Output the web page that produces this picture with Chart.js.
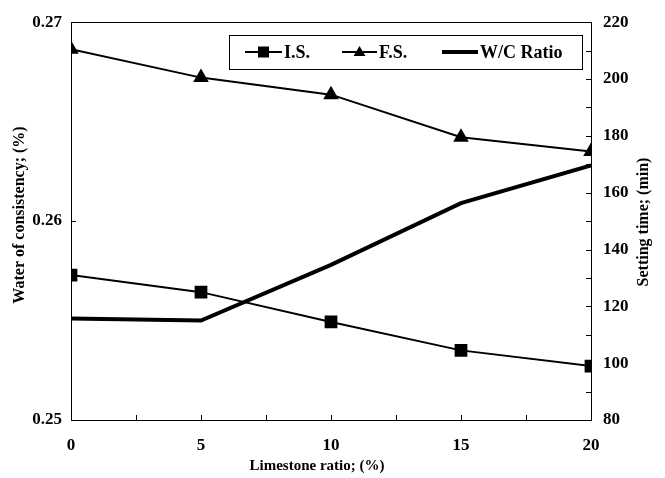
<!DOCTYPE html>
<html>
<head>
<meta charset="utf-8">
<script src="https://cdn.jsdelivr.net/npm/chart.js@4"></script>
<style>
  body { margin: 0; background: #fff; }
  #wrap { width: 665px; height: 478px; }
</style>
</head>
<body>
<div id="wrap"><canvas id="myChart" width="665" height="478"></canvas></div>
<script>
// Data
const limestone = [0, 5, 10, 15, 20];
const initialSet = [131, 125, 114.5, 104.5, 99];
const finalSet = [210.5, 200.5, 194.5, 179.5, 174.5];
const wcRatio = [0.2551, 0.2550, 0.2578, 0.2609, 0.2628];

const xTicks = [0, 5, 10, 15, 20];
const leftTicks = [0.25, 0.26, 0.27];
const rightTicks = [80, 100, 120, 140, 160, 180, 200, 220];

const xTitle = 'Limestone ratio; (%)';
const leftTitle = 'Water of consistency; (%)';
const rightTitle = 'Setting time; (min)';

const toPoints = (vals) => limestone.map((x, i) => ({ x: x, y: vals[i] }));

const serif = '"Liberation Serif", "Times New Roman", serif';

// inward ticks, frame box, axis titles and legend box
const framePlugin = {
    id: 'frame',
    afterDraw(chart) {
        const ctx = chart.ctx;
        const a = chart.chartArea;
        ctx.save();
        ctx.strokeStyle = '#000';
        ctx.lineWidth = 1;
        ctx.strokeRect(Math.round(a.left) + 0.5, Math.round(a.top) + 0.5,
            Math.round(a.right - a.left), Math.round(a.bottom - a.top));

        const tick = (x1, y1, x2, y2) => {
            ctx.beginPath();
            ctx.moveTo(x1, y1);
            ctx.lineTo(x2, y2);
            ctx.stroke();
        };
        const x = chart.scales.x;
        x.ticks.forEach(t => {
            const px = Math.round(x.getPixelForValue(t.value)) + 0.5;
            tick(px, a.bottom, px, a.bottom - 5);
        });
        const y = chart.scales.y;
        y.ticks.forEach(t => {
            const py = Math.round(y.getPixelForValue(t.value)) + 0.5;
            tick(a.left, py, a.left + 5, py);
        });
        const y1 = chart.scales.y1;
        y1.ticks.forEach(t => {
            const py = Math.round(y1.getPixelForValue(t.value)) + 0.5;
            tick(a.right, py, a.right - 5, py);
        });

        // axis titles
        ctx.fillStyle = '#000';
        ctx.textAlign = 'center';
        ctx.textBaseline = 'middle';
        ctx.font = 'bold 15px ' + serif;
        ctx.fillText(xTitle, 317, 466);
        ctx.font = 'bold 16px ' + serif;
        ctx.save();
        ctx.translate(20, 215);
        ctx.rotate(-Math.PI / 2);
        ctx.fillText(leftTitle, 0, 0);
        ctx.restore();
        ctx.save();
        ctx.translate(644, 222);
        ctx.rotate(-Math.PI / 2);
        ctx.fillText(rightTitle, 0, 0);
        ctx.restore();

        // legend
        const lx = 229, ly = 35, lw = 353, lh = 34;
        ctx.fillStyle = '#fff';
        ctx.fillRect(lx, ly, lw, lh);
        ctx.strokeRect(lx + 0.5, ly + 0.5, lw, lh);
        const my = ly + lh / 2;
        ctx.font = 'bold 18px ' + serif;
        ctx.textAlign = 'left';
        ctx.textBaseline = 'middle';
        ctx.fillStyle = '#000';
        const items = [
            { x0: 245, x1: 282, lw: 2, marker: 'rect', label: 'I.S.' },
            { x0: 342, x1: 377, lw: 2, marker: 'tri', label: 'F.S.' },
            { x0: 442, x1: 478, lw: 4, marker: null, label: 'W/C Ratio' },
        ];
        items.forEach(it => {
            ctx.lineWidth = it.lw;
            tick(it.x0, my, it.x1, my);
            const cx = (it.x0 + it.x1) / 2;
            if (it.marker === 'rect') {
                ctx.fillRect(cx - 5.5, my - 5.5, 11, 11);
            } else if (it.marker === 'tri') {
                ctx.beginPath();
                ctx.moveTo(cx, my - 6);
                ctx.lineTo(cx + 6, my + 4);
                ctx.lineTo(cx - 6, my + 4);
                ctx.closePath();
                ctx.fill();
            }
            ctx.fillText(it.label, it.x1 + 2, my + 1);
        });
        ctx.restore();
    }
};

const ctx = document.getElementById('myChart').getContext('2d');

const data = {
    datasets: [
        {
            label: 'I.S.',
            data: toPoints(initialSet),
            yAxisID: 'y1',
            borderColor: '#000',
            backgroundColor: '#000',
            borderWidth: 2,
            pointStyle: 'rect',
            pointRadius: 9,
            pointBorderWidth: 0,
        },
        {
            label: 'F.S.',
            data: toPoints(finalSet),
            yAxisID: 'y1',
            borderColor: '#000',
            backgroundColor: '#000',
            borderWidth: 2,
            pointStyle: 'triangle',
            pointRadius: 9,
            pointBorderWidth: 0,
        },
        {
            label: 'W/C Ratio',
            data: toPoints(wcRatio),
            yAxisID: 'y',
            borderColor: '#000',
            borderWidth: 4,
            pointRadius: 0,
        },
    ],
};

const tickFont = { family: serif, size: 17, weight: 'bold' };
const noGrid = { display: false, drawTicks: false, tickLength: 0 };

const options = {
    responsive: false,
    animation: false,
    layout: { padding: { top: 17, left: 0, right: 0, bottom: 0 } },
    plugins: { legend: { display: false }, tooltip: { enabled: false } },
    scales: {
        x: {
            type: 'linear',
            min: 0,
            max: 20,
            afterBuildTicks: (s) => { s.ticks = [0, 2.5, 5, 7.5, 10, 12.5, 15, 17.5, 20].map(v => ({ value: v })); },
            afterFit: (s) => { s.height = 58; },
            grid: noGrid,
            border: { display: false },
            ticks: {
                color: '#000',
                font: tickFont,
                padding: 15,
                maxRotation: 0,
                autoSkip: false,
                callback: (v) => xTicks.includes(v) ? v : '',
            },
        },
        y: {
            position: 'left',
            min: 0.25,
            max: 0.27,
            afterBuildTicks: (s) => { s.ticks = leftTicks.map(v => ({ value: v })); },
            afterFit: (s) => { s.width = 71; },
            grid: noGrid,
            border: { display: false },
            ticks: {
                color: '#000',
                font: tickFont,
                padding: 9,
                callback: (v) => v.toFixed(2),
            },
        },
        y1: {
            position: 'right',
            min: 80,
            max: 220,
            afterBuildTicks: (s) => {
                const t = [];
                for (let v = 80; v <= 220; v += 10) t.push({ value: v });
                s.ticks = t;
            },
            afterFit: (s) => { s.width = 74; },
            grid: noGrid,
            border: { display: false },
            ticks: {
                color: '#000',
                font: tickFont,
                padding: 12,
                autoSkip: false,
                callback: (v) => rightTicks.includes(v) ? v : '',
            },
        },
    },
};

const myChart = new Chart(ctx, {
    type: 'line',
    data: data,
    options: options,
    plugins: [framePlugin],
});
</script>
</body>
</html>
